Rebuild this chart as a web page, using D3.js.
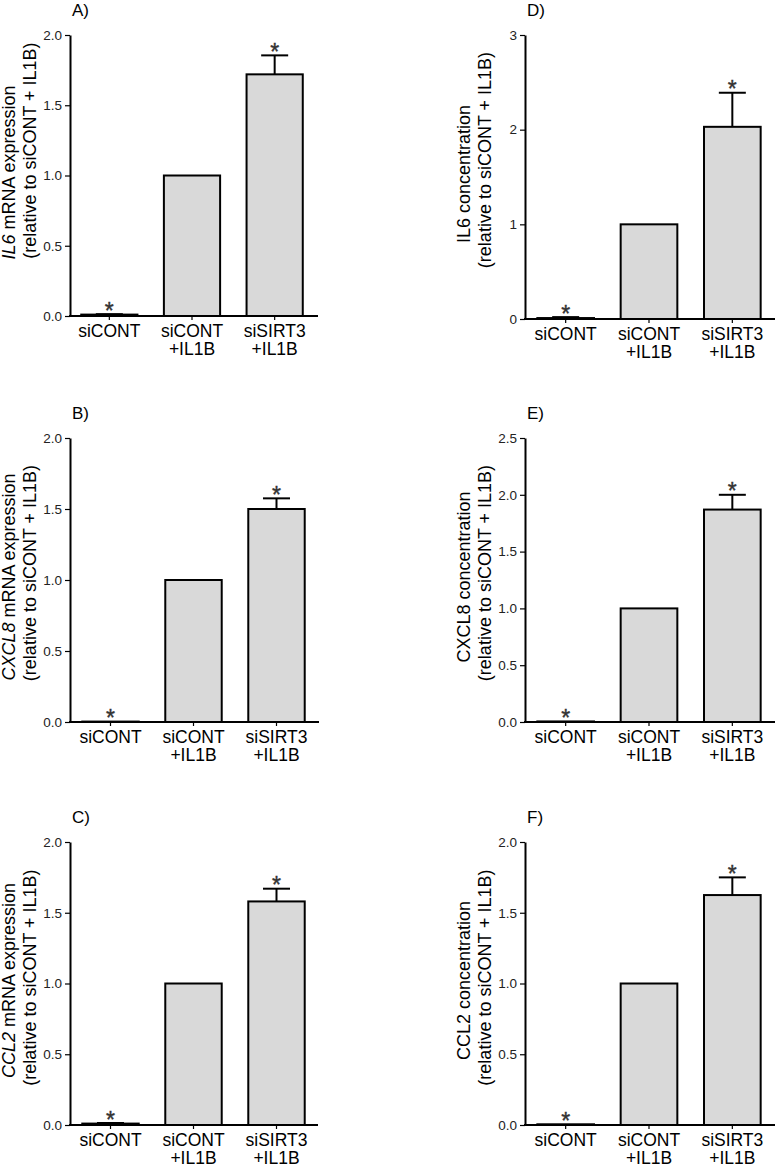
<!DOCTYPE html>
<html>
<head>
<meta charset="utf-8">
<script src="https://cdn.jsdelivr.net/npm/d3@7"></script>
<style>
  html, body { margin: 0; padding: 0; background: #fff; }
  svg { display: block; font-family: "Liberation Sans", Arial, sans-serif; }
</style>
</head>
<body>
<svg id="chart" width="775" height="1167"></svg>
<script>
// ---------- data ----------
const catLine1 = ["siCONT", "siCONT", "siSIRT3"];
const catLine2 = ["", "+IL1B", "+IL1B"];

const il6MrnaMean   = [0.01, 1.0, 1.72];
const il6MrnaErr    = [0.003, 0, 0.135];
const cxcl8MrnaMean = [0.003, 1.0, 1.50];
const cxcl8MrnaErr  = [0, 0, 0.075];
const ccl2MrnaMean  = [0.01, 1.0, 1.58];
const ccl2MrnaErr   = [0.004, 0, 0.09];

const il6ConcMean   = [0.01, 1.0, 2.03];
const il6ConcErr    = [0.01, 0, 0.36];
const cxcl8ConcMean = [0.005, 1.0, 1.87];
const cxcl8ConcErr  = [0, 0, 0.13];
const ccl2ConcMean  = [0.005, 1.0, 1.625];
const ccl2ConcErr   = [0, 0, 0.125];

const significant = [true, false, true];

const ticks2   = [0, 0.5, 1.0, 1.5, 2.0];
const ticks3   = [0, 1, 2, 3];
const ticks25  = [0, 0.5, 1.0, 1.5, 2.0, 2.5];

const panelLabels = ["A)", "B)", "C)", "D)", "E)", "F)"];
const titleGene   = ["IL6", "CXCL8", "CCL2", "IL6", "CXCL8", "CCL2"];
const titleRest   = [" mRNA expression", " mRNA expression", " mRNA expression",
                     " concentration", " concentration", " concentration"];
const titleItalic = [true, true, true, false, false, false];
const titleLine2  = "(relative to siCONT + IL1B)";

// ---------- layout ----------
const panels = [
  {mean: il6MrnaMean,   err: il6MrnaErr,   ticks: ticks2,  fmt: ".1f", yMax: 2.0, ax: 70,  xr: [68, 316],  xEnd: 318, y0: 316,  y1: 35,  t2shift: -22},
  {mean: cxcl8MrnaMean, err: cxcl8MrnaErr, ticks: ticks2,  fmt: ".1f", yMax: 2.0, ax: 70,  xr: [69, 318],  xEnd: 319, y0: 722,  y1: 438, t2shift: -4},
  {mean: ccl2MrnaMean,  err: ccl2MrnaErr,  ticks: ticks2,  fmt: ".1f", yMax: 2.0, ax: 70,  xr: [69, 318],  xEnd: 318, y0: 1125, y1: 842, t2shift: -3},
  {mean: il6ConcMean,   err: il6ConcErr,   ticks: ticks3,  fmt: "d",   yMax: 3,   ax: 525, xr: [524, 774], xEnd: 775, y0: 319,  y1: 35,  t2shift: -14},
  {mean: cxcl8ConcMean, err: cxcl8ConcErr, ticks: ticks25, fmt: ".1f", yMax: 2.5, ax: 525, xr: [524, 774], xEnd: 775, y0: 722,  y1: 438, t2shift: -4},
  {mean: ccl2ConcMean,  err: ccl2ConcErr,  ticks: ticks2,  fmt: ".1f", yMax: 2.0, ax: 525, xr: [524, 774], xEnd: 775, y0: 1125, y1: 842, t2shift: -3}
];

const svg = d3.select("#chart");
svg.append("rect").attr("width", 775).attr("height", 1167).attr("fill", "#fff");

panels.forEach((p, i) => {
  const g = svg.append("g");
  const x = d3.scaleBand().domain(d3.range(3)).range(p.xr).paddingInner(0.32).paddingOuter(0.16);
  const y = d3.scaleLinear().domain([0, p.yMax]).range([p.y0, p.y1]);

  // bars
  g.selectAll("rect.bar").data(p.mean).enter().append("rect")
    .attr("class", "bar")
    .attr("x", (d, j) => x(j))
    .attr("width", x.bandwidth())
    .attr("y", d => y(d))
    .attr("height", d => Math.max(0, y(0) - y(d)))
    .attr("fill", "#d9d9d9")
    .attr("stroke", "#000")
    .attr("stroke-width", 2);

  // error bars (upper only)
  const capW = 27;
  p.mean.forEach((m, j) => {
    const e = p.err[j];
    if (e > 0) {
      const cx = x(j) + x.bandwidth() / 2;
      g.append("line").attr("x1", cx).attr("x2", cx).attr("y1", y(m)).attr("y2", y(m + e))
        .attr("stroke", "#000").attr("stroke-width", 2);
      g.append("line").attr("x1", cx - capW / 2).attr("x2", cx + capW / 2).attr("y1", y(m + e)).attr("y2", y(m + e))
        .attr("stroke", "#000").attr("stroke-width", 2);
    }
  });

  // asterisks
  p.mean.forEach((m, j) => {
    if (!significant[j]) return;
    const cx = x(j) + x.bandwidth() / 2;
    g.append("text").attr("x", cx).attr("y", y(m + p.err[j]) + 4.5)
      .attr("text-anchor", "middle").attr("font-size", 23).attr("fill", "#333")
      .attr("stroke", "#333").attr("stroke-width", 0.4)
      .text("*");
  });

  // y axis
  const yAxis = d3.axisLeft(y).tickValues(p.ticks).tickFormat(d3.format(p.fmt)).tickSize(5).tickSizeOuter(0).tickPadding(3);
  const ya = g.append("g").attr("transform", `translate(${p.ax},0)`).call(yAxis);
  ya.select(".domain").attr("stroke", "#000").attr("stroke-width", 2);
  ya.selectAll(".tick line").attr("stroke", "#000").attr("stroke-width", 1.2);
  ya.selectAll(".tick text").attr("font-size", 13.5).attr("fill", "#222")
    .attr("font-family", "'Liberation Sans', Arial, sans-serif");

  // x axis
  const xAxis = d3.axisBottom(x).tickSize(4).tickSizeOuter(0).tickFormat(() => "");
  const xa = g.append("g").attr("transform", `translate(0,${p.y0})`).call(xAxis);
  xa.select(".domain").remove();
  xa.selectAll(".tick line").attr("stroke", "#000").attr("stroke-width", 1.2);
  xa.selectAll(".tick text").remove();
  xa.selectAll(".tick").append("text")
    .attr("text-anchor", "middle").attr("font-size", 17.5).attr("fill", "#000")
    .attr("font-family", "'Liberation Sans', Arial, sans-serif")
    .each(function(d) {
      const t = d3.select(this);
      t.append("tspan").attr("x", 0).attr("y", 21).text(catLine1[d]);
      if (catLine2[d]) t.append("tspan").attr("x", 0).attr("y", 39).text(catLine2[d]);
    });
  g.append("line").attr("x1", p.ax - 1).attr("x2", p.xEnd).attr("y1", p.y0).attr("y2", p.y0)
    .attr("stroke", "#000").attr("stroke-width", 2);

  // y titles
  const yc = (p.y0 + p.y1) / 2 - 3;
  const t1 = g.append("text").attr("transform", `translate(${p.ax - 55},${yc}) rotate(-90)`)
    .attr("text-anchor", "middle").attr("font-size", 18).attr("fill", "#000");
  t1.append("tspan").attr("font-style", titleItalic[i] ? "italic" : "normal").text(titleGene[i]);
  t1.append("tspan").text(titleRest[i]);
  g.append("text").attr("transform", `translate(${p.ax - 34},${yc + p.t2shift}) rotate(-90)`)
    .attr("text-anchor", "middle").attr("font-size", 18).attr("fill", "#000")
    .text(titleLine2);

  // panel label
  g.append("text").attr("x", p.ax + 2).attr("y", p.y1 - 19)
    .attr("font-size", 17).attr("fill", "#000").text(panelLabels[i]);
});
</script>
</body>
</html>
